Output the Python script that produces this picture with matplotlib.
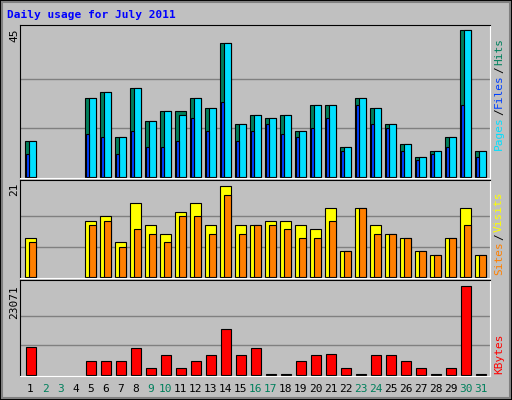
import matplotlib
matplotlib.use("Agg")
import matplotlib.pyplot as plt
import numpy as np
from matplotlib.patches import Rectangle

days = list(range(1, 32))
weekend = {2, 3, 9, 10, 16, 17, 23, 24, 30, 31}
hits = [11, 0, 0, 0, 24, 26, 12, 27, 17, 20, 20, 24, 21, 41, 16, 19, 18, 19, 14, 22, 22, 9, 24, 21, 16, 10, 6, 8, 12, 45, 8]
files = [11, 0, 0, 0, 24, 26, 12, 27, 17, 20, 19, 24, 21, 41, 16, 19, 18, 19, 14, 22, 22, 9, 24, 21, 16, 10, 6, 8, 12, 45, 8]
pages = [7, 0, 0, 0, 13, 12, 7, 14, 9, 9, 11, 18, 14, 23, 11, 14, 16, 13, 12, 15, 18, 8, 22, 16, 15, 8, 5, 7, 9, 22, 6]
visits = [9, 0, 0, 0, 13, 14, 8, 17, 12, 10, 15, 17, 12, 21, 12, 12, 13, 13, 12, 11, 16, 6, 16, 12, 10, 9, 6, 5, 9, 16, 5]
sites = [8, 0, 0, 0, 12, 13, 7, 11, 10, 8, 14, 14, 10, 19, 10, 12, 12, 11, 9, 9, 13, 6, 16, 10, 10, 9, 6, 5, 9, 12, 5]
kbytes = [7157, 0, 0, 0, 3620, 3620, 3620, 6904, 1852, 5136, 1852, 3620, 5136, 11956, 5136, 6904, 300, 300, 3620, 5136,
          5389, 1852, 300, 5136, 5136, 3620, 1852, 300, 1852, 23071, 300]

W, H = 512, 400
BG = "#C0C0C0"
MONO = "DejaVu Sans Mono"
fig = plt.figure(figsize=(W / 100, H / 100), dpi=100, facecolor=BG)

# frame / bevel
fig.patches.append(Rectangle((0, 0), 1, 1, transform=fig.transFigure, fill=False, edgecolor="black", lw=1.5))
fig.patches.append(Rectangle((2 / W, 2 / H), 1 - 4 / W, 1 - 4 / H, transform=fig.transFigure, fill=False,
                             edgecolor="#808080", lw=1.5))
fig.text(7 / W, 1 - 15 / H, "Daily usage for July 2011", color="#0000FF", fontsize=8,
         fontweight="bold", family=MONO, va="center")


def panel(top, bottom):
    ax = fig.add_axes([20 / W, 1 - bottom / H, 470 / W, (bottom - top) / H])
    ax.set_facecolor(BG)
    ax.set_xlim(-0.333, 31.0)
    for name, col in (("left", "black"), ("top", "black"), ("bottom", "white"), ("right", "white")):
        ax.spines[name].set_color(col)
    ax.set_xticks([])
    ax.set_yticks([])
    return ax


def nz(vals):
    idx = np.array([i for i, v in enumerate(vals) if v > 0])
    return idx, [vals[i] for i in idx]


kw = dict(align="edge", edgecolor="black", linewidth=0.8)

ax1 = panel(25, 178)
ax1.set_ylim(-0.4, 45 * 153 / 147 - 0.4)
for g in (15, 30):
    ax1.axhline(g, color="#808080", lw=1, zorder=0)
i, v = nz(hits)
ax1.bar(i, v, 0.75, color="#00805C", **kw)
i, v = nz(files)
ax1.bar(i + 0.27, v, 0.49, color="#00E0FF", **kw)
i, v = nz(pages)
ax1.bar(i + 0.09, v, 0.18, color="#0040FF", **kw)

ax2 = panel(180, 278)
ax2.set_ylim(-0.2, 21 * 98 / 92)
for g in (7, 14):
    ax2.axhline(g, color="#808080", lw=1, zorder=0)
i, v = nz(visits)
ax2.bar(i, v, 0.75, color="#FFFF00", **kw)
i, v = nz(sites)
ax2.bar(i + 0.27, v, 0.49, color="#FF8000", **kw)

ax3 = panel(280, 376)
ax3.set_ylim(-300, 23071 * 96 / 90)
for g in (23071 / 3, 23071 * 2 / 3):
    ax3.axhline(g, color="#808080", lw=1, zorder=0)
i, v = nz(kbytes)
ax3.bar(i + 0.07, v, 0.69, color="#FF0000", **kw)

for d in days:
    fig.text((25 + 15 * (d - 1) + 5.5) / W, 1 - 389 / H, str(d), ha="center", va="center",
             fontsize=8, family=MONO, color="#00805C" if d in weekend else "black")

for y, lab in ((29, "45"), (183, "21"), (285, "23071")):
    fig.text(14 / W, 1 - y / H, lab, rotation=90, ha="center", va="top", fontsize=8, family=MONO)

renderer = fig.canvas.get_renderer()


def side(parts, y_bottom):
    y = 1 - y_bottom / H
    for text, col in parts:
        t = fig.text(499 / W, y, text, rotation=90, ha="center", va="bottom",
                     fontsize=8, family=MONO, color=col)
        bb = t.get_window_extent(renderer)
        y += bb.height / H + 1 / H


side([("Pages", "#00E0FF"), ("/", "black"), ("Files", "#0040FF"), ("/", "black"), ("Hits", "#00805C")], 150)
side([("Sites", "#FF8000"), ("/", "black"), ("Visits", "#FFFF00")], 275)
side([("KBytes", "#FF0000")], 374)

fig.savefig("out.png", dpi=100, facecolor=BG)
